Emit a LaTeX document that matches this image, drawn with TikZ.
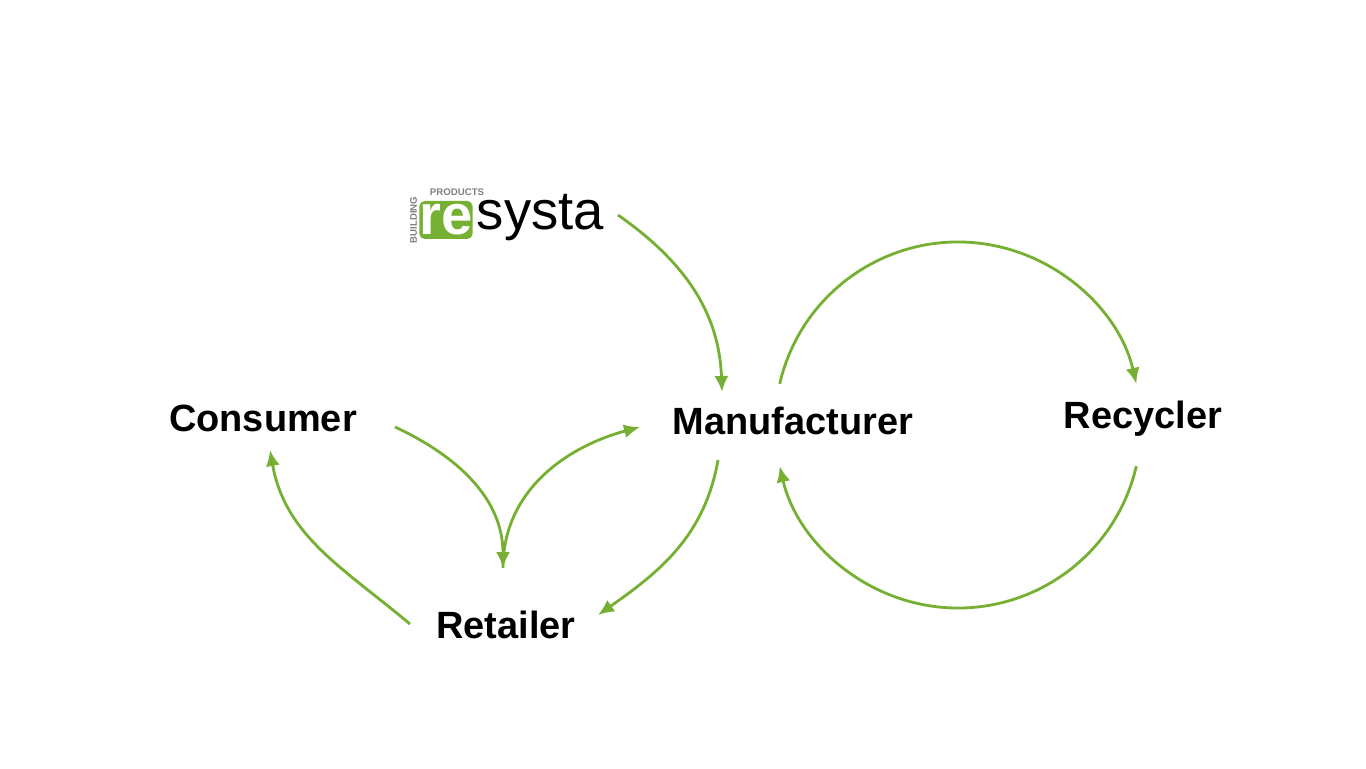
\documentclass[tikz,border=0pt]{standalone}
\usepackage{fontspec}
\setmainfont{Liberation Sans}
\usetikzlibrary{arrows.meta, positioning}
\definecolor{leaf}{RGB}{118,176,50}
\tikzstyle{actor} = [font=\fontsize{21.6}{26}\selectfont\bfseries, inner sep=0pt]
\tikzstyle{arrow} = [leaf, line width=1.6pt, -{Latex[length=3.2mm,width=2.8mm]}]
\begin{document}
\begin{tikzpicture}[x=0.02cm, y=0.02cm]
	\useasboundingbox (0,0) rectangle (1366,768);
	\node (Consumer) [actor] at (263,350) {Consumer};
	\node (Manufacturer) [actor] at (793,347) {Manufacturer};
	\node (Recycler) [actor] at (1143,349) {Recycler};
	\node (Retailer) [actor] at (506,143) {Retailer};
	% logo
	\node (LogoBox) [fill=leaf, rounded corners=3pt, minimum width=48*0.02cm, minimum height=38*0.02cm, inner sep=0pt, text=white, font=\fontsize{32}{32}\selectfont\bfseries] at (446,548) {re};
	\node (LogoText) [right = 2pt of LogoBox.south east, anchor=south west, inner sep=0pt, font=\fontsize{31}{31}\selectfont, yshift=-1pt] {systa};
	\node (LogoTop) [above right = 2.5pt and 6pt of LogoBox.north west, anchor=south west, inner sep=0pt, font=\fontsize{5.5}{6}\selectfont\bfseries, text=gray] {PRODUCTS};
	\node (LogoSide) [left = 1pt of LogoBox.west, rotate=90, anchor=south, inner sep=0pt, font=\fontsize{5.5}{6}\selectfont\bfseries, text=gray] {BUILDING};
	% connectors
	\coordinate (LogoOut) at (618,553);
	\coordinate (ManTop) at (722,376);
	\coordinate (ManLow) at (718,308);
	\coordinate (RetTop) at (503,200);
	\coordinate (RetRight) at (598,153);
	\coordinate (RetLeft) at (410,144);
	\coordinate (ConRight) at (395,341);
	\coordinate (ConLow) at (270,318);
	\coordinate (ManLeft) at (640,341);
	\draw [arrow] (LogoOut) to[out=-35, in=92] (ManTop);
	\draw [arrow] (958,343) ++(167:183) arc[start angle=167, end angle=13, radius=183];
	\draw [arrow] (958,343) ++(-13:183) arc[start angle=-13, end angle=-167, radius=183];
	\draw [arrow] (ManLow) to[out=-100, in=35] (RetRight);
	\draw [arrow] (ConRight) to[out=-25, in=90] (RetTop);
	\draw [arrow] (RetTop) to[out=90, in=195] (ManLeft);
	\draw [arrow] (RetLeft) to[out=140, in=-80] (ConLow);
\end{tikzpicture}
\end{document}
